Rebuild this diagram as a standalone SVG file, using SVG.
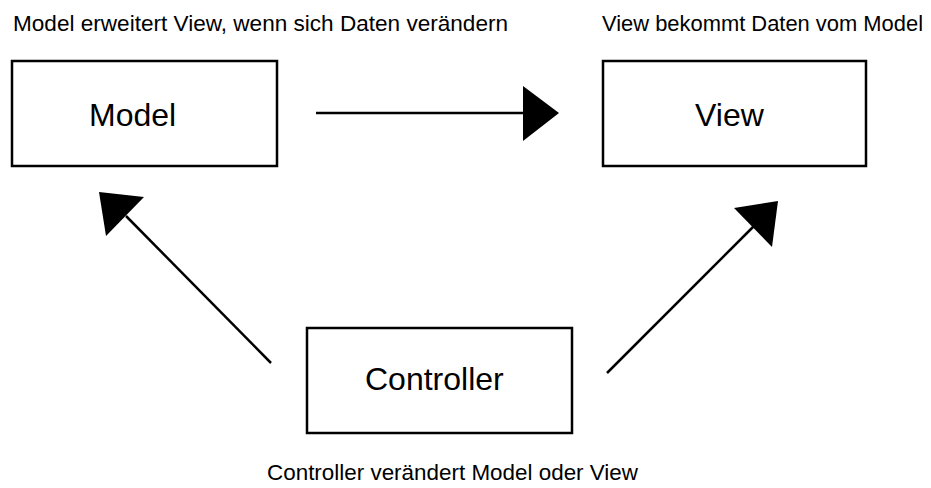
<svg xmlns="http://www.w3.org/2000/svg" width="931" height="488" viewBox="0 0 931 488">
<style>
.box{fill:#fff;stroke:#000;stroke-width:2.5}
.lbl{font-family:"Liberation Sans",Arial,sans-serif;font-size:32px;fill:#000}
.cap{font-family:"Liberation Sans",Arial,sans-serif;font-size:22.4px;fill:#000}
.line{stroke:#000;stroke-width:2.5;fill:none}
.head{fill:#000;stroke:none}
</style>
<rect width="931" height="488" fill="#fff"/>
<text class="cap" x="13" y="31" textLength="495" lengthAdjust="spacingAndGlyphs">Model erweitert View, wenn sich Daten verändern</text>
<text class="cap" x="602" y="31" textLength="321" lengthAdjust="spacingAndGlyphs">View bekommt Daten vom Model</text>
<text class="cap" x="267" y="480" textLength="371" lengthAdjust="spacingAndGlyphs">Controller verändert Model oder View</text>
<g id="model">
<rect class="box" x="12" y="61" width="265" height="105"/>
<text class="lbl" x="89" y="126">Model</text>
</g>
<g id="view">
<rect class="box" x="603" y="61" width="263" height="105"/>
<text class="lbl" x="695" y="126">View</text>
</g>
<g id="controller">
<rect class="box" x="307" y="328" width="265" height="105"/>
<text class="lbl" x="365" y="390">Controller</text>
</g>
<g id="connectors">
<line class="line" x1="316" y1="113" x2="525" y2="113"/>
<polygon class="head" points="523,86 559,113 523,141"/>
<line class="line" x1="271" y1="363" x2="126" y2="216"/>
<polygon class="head" points="99,192 144,197 106,236"/>
<line class="line" x1="607" y1="373" x2="754" y2="226"/>
<polygon class="head" points="778,201 734,208 772,247"/>
</g>
</svg>
